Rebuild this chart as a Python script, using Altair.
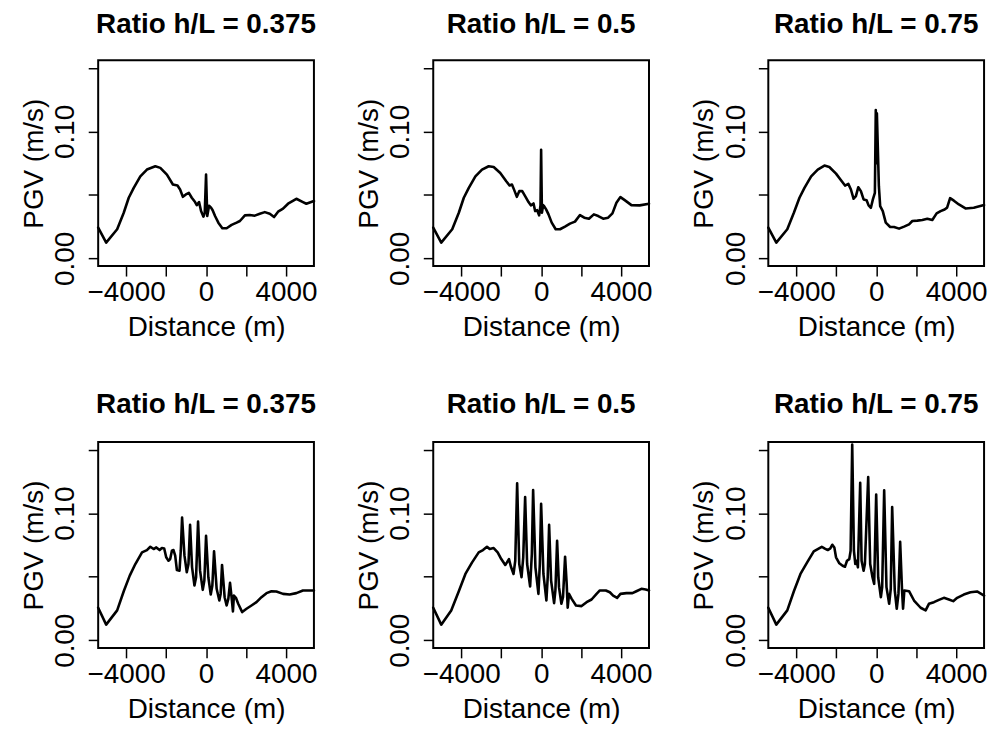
import altair as alt
import pandas as pd

titles = ["Ratio h/L = 0.375", "Ratio h/L = 0.5", "Ratio h/L = 0.75",
          "Ratio h/L = 0.375", "Ratio h/L = 0.5", "Ratio h/L = 0.75"]

# Top row: single ridge
x1 = [-5400, -5000, -4450, -4120, -3870, -3620, -3290, -2960, -2540, -2290, -1960, -1660, -1430, -1300,
      -1160, -1010, -860, -715, -550, -465, -350, -250, -130, -65, 0, 60, 150, 250, 330, 450, 615, 815,
      1030, 1280, 1530, 1695, 1945, 2190, 2440, 2690, 2940, 3190, 3405, 3605, 3855, 4105, 4520, 4850,
      5020, 5400]
y1 = [0.0243, 0.0125, 0.0230, 0.0360, 0.0478, 0.0556, 0.0647, 0.0700, 0.0726, 0.0713, 0.0660, 0.0582,
      0.0574, 0.0543, 0.0485, 0.0504, 0.0517, 0.0478, 0.0444, 0.0420, 0.0444, 0.0373, 0.0329, 0.0360,
      0.0660, 0.0334, 0.0415, 0.0400, 0.0380, 0.0334, 0.0282, 0.0238, 0.0238, 0.0264, 0.0282, 0.0295,
      0.0339, 0.0342, 0.0337, 0.0352, 0.0365, 0.0352, 0.0326, 0.0368, 0.0392, 0.0431, 0.0470, 0.0444,
      0.0431, 0.0452]

x2 = [-5400, -5000, -4450, -4120, -3870, -3620, -3290, -2960, -2625, -2375, -2045, -1745, -1580, -1460,
      -1345, -1215, -1095, -945, -800, -630, -515, -380, -300, -200, -100, -30, 0, 40, 100, 150, 250, 370,
      530, 730, 945, 1195, 1445, 1695, 1945, 2160, 2395, 2640, 2860, 3105, 3355, 3570, 3770, 3970, 4185,
      4520, 4935, 5400]
y2 = [0.0243, 0.0125, 0.0230, 0.0360, 0.0478, 0.0556, 0.0647, 0.0700, 0.0726, 0.0720, 0.0673, 0.0608,
      0.0574, 0.0582, 0.0538, 0.0485, 0.0530, 0.0530, 0.0491, 0.0444, 0.0418, 0.0433, 0.0373, 0.0380,
      0.0339, 0.0420, 0.0856, 0.0360, 0.0420, 0.0412, 0.0386, 0.0347, 0.0282, 0.0230, 0.0230, 0.0251,
      0.0274, 0.0290, 0.0342, 0.0321, 0.0313, 0.0347, 0.0334, 0.0313, 0.0321, 0.0355, 0.0439, 0.0483,
      0.0459, 0.0420, 0.0418, 0.0431]

x3 = [-5400, -5000, -4450, -4120, -3840, -3590, -3255, -2925, -2590, -2345, -2010, -1760, -1560, -1395,
      -1265, -1130, -1015, -895, -765, -630, -480, -380, -265, -165, -65, -20, 15, 35, 135, 200, 330, 480,
      700, 895, 1145, 1395, 1645, 1810, 2060, 2310, 2560, 2810, 3025, 3225, 3425, 3550, 3700, 3890, 4140,
      4470, 4885, 5400]
y3 = [0.0243, 0.0125, 0.0230, 0.0360, 0.0478, 0.0556, 0.0647, 0.0700, 0.0731, 0.0720, 0.0668, 0.0616,
      0.0574, 0.0587, 0.0543, 0.0470, 0.0491, 0.0561, 0.0530, 0.0465, 0.0459, 0.0418, 0.0399, 0.0465,
      0.0517, 0.1169, 0.0750, 0.1143, 0.0569, 0.0412, 0.0373, 0.0282, 0.0248, 0.0248, 0.0235, 0.0251,
      0.0269, 0.0295, 0.0298, 0.0303, 0.0313, 0.0303, 0.0355, 0.0373, 0.0386, 0.0400, 0.0475, 0.0455,
      0.0425, 0.0394, 0.0399, 0.0420]

# Bottom row: seven ridges
x4 = [-5400, -5000, -4450, -4120, -3820, -3540, -3205, -2960, -2790, -2625, -2490, -2325, -2210, -2095,
      -1995, -1880, -1795, -1710, -1630, -1545, -1460, -1330, -1265, -1200, -1080, -965, -880, -800, -700,
      -580, -500, -400, -300, -165, -85, 0, 115, 235, 315, 400, 530, 665, 730, 800, 930, 1030, 1115, 1200,
      1295, 1345, 1395, 1495, 1610, 1810, 2025, 2275, 2525, 2775, 3025, 3275, 3520, 3855, 4185, 4520,
      4850, 5400]
y4 = [0.0256, 0.0123, 0.0235, 0.0386, 0.0509, 0.0600, 0.0692, 0.0710, 0.0736, 0.0718, 0.0731, 0.0710,
      0.0726, 0.0723, 0.0653, 0.0626, 0.0639, 0.0705, 0.0710, 0.0666, 0.0553, 0.0548, 0.0705, 0.0966,
      0.0666, 0.0535, 0.0600, 0.0908, 0.0574, 0.0431, 0.0496, 0.0934, 0.0548, 0.0397, 0.0470, 0.0822,
      0.0496, 0.0360, 0.0431, 0.0700, 0.0405, 0.0313, 0.0365, 0.0593, 0.0339, 0.0274, 0.0326, 0.0452,
      0.0313, 0.0227, 0.0352, 0.0334, 0.0287, 0.0222, 0.0248, 0.0274, 0.0300, 0.0339, 0.0371, 0.0386,
      0.0384, 0.0365, 0.0360, 0.0371, 0.0392, 0.0392]

x5 = [-5400, -5000, -4500, -4120, -3790, -3455, -3125, -2910, -2710, -2575, -2375, -2175, -1995, -1795,
      -1710, -1610, -1510, -1380, -1295, -1200, -1095, -980, -895, -800, -700, -550, -465, -400, -285,
      -135, -65, 0, 115, 265, 330, 400, 500, 650, 715, 800, 895, 1015, 1095, 1200, 1280, 1330, 1395,
      1530, 1745, 2025, 2275, 2525, 2775, 2940, 3240, 3440, 3605, 3805, 3970, 4270, 4570, 4770, 5020,
      5235, 5400]
y5 = [0.0256, 0.0123, 0.0235, 0.0386, 0.0522, 0.0613, 0.0692, 0.0710, 0.0736, 0.0718, 0.0726, 0.0692,
      0.0639, 0.0593, 0.0613, 0.0639, 0.0579, 0.0522, 0.0626, 0.1235, 0.0600, 0.0496, 0.0653, 0.1128,
      0.0600, 0.0423, 0.0679, 0.1182, 0.0574, 0.0365, 0.0600, 0.1075, 0.0522, 0.0313, 0.0496, 0.0908,
      0.0470, 0.0292, 0.0392, 0.0783, 0.0418, 0.0287, 0.0339, 0.0658, 0.0444, 0.0256, 0.0365, 0.0326,
      0.0274, 0.0269, 0.0300, 0.0321, 0.0365, 0.0392, 0.0392, 0.0378, 0.0352, 0.0334, 0.0365, 0.0371,
      0.0371, 0.0386, 0.0405, 0.0399, 0.0392]

x6 = [-5400, -5000, -4450, -4120, -3790, -3455, -3125, -2925, -2725, -2590, -2425, -2295, -2195, -2095,
      -2010, -1845, -1680, -1560, -1460, -1345, -1280, -1200, -1115, -1045, -980, -915, -800, -730, -630,
      -565, -400, -300, -185, -100, 0, 100, 235, 300, 400, 515, 650, 730, 800, 930, 1030, 1115, 1200,
      1295, 1345, 1410, 1645, 1895, 2225, 2475, 2640, 2890, 3140, 3390, 3640, 3855, 4055, 4385, 4720,
      5050, 5400]
y6 = [0.0256, 0.0123, 0.0235, 0.0386, 0.0522, 0.0613, 0.0700, 0.0718, 0.0736, 0.0723, 0.0710, 0.0723,
      0.0752, 0.0731, 0.0653, 0.0606, 0.0587, 0.0579, 0.0626, 0.0639, 0.0705, 0.1540, 0.0705, 0.0600,
      0.0626, 0.0574, 0.1240, 0.0626, 0.0548, 0.0600, 0.1284, 0.0600, 0.0496, 0.0444, 0.1148, 0.0496,
      0.0339, 0.0418, 0.1180, 0.0418, 0.0287, 0.0405, 0.1049, 0.0392, 0.0248, 0.0365, 0.0775, 0.0392,
      0.0248, 0.0392, 0.0386, 0.0313, 0.0256, 0.0235, 0.0287, 0.0300, 0.0318, 0.0334, 0.0321, 0.0308,
      0.0334, 0.0360, 0.0378, 0.0384, 0.0352]

xs = [x1, x2, x3, x4, x5, x6]
ys = [y1, y2, y3, y4, y5, y6]

x_ticks = [-4000, -2000, 0, 2000, 4000]
y_ticks = [0.0, 0.05, 0.10, 0.15]

FONT = "Liberation Sans"
W, H = 217, 207


def panel(i):
    df = pd.DataFrame({"x": xs[i], "y": ys[i]})
    line = alt.Chart(df).mark_line(color="black", strokeWidth=2.6, strokeJoin="round",
                                   strokeCap="round").encode(
        x=alt.X("x:Q",
                scale=alt.Scale(domain=[-5400, 5400], nice=False, zero=False),
                axis=alt.Axis(values=x_ticks, format="d", title="Distance (m)",
                              labelExpr="abs(datum.value) == 2000 ? '' : datum.label",
                              grid=False, domain=False, tickSize=10, tickWidth=1.5,
                              tickColor="black", labelColor="black", titleColor="black",
                              labelFont=FONT, titleFont=FONT, labelFontSize=28, titleFontSize=28,
                              titleFontWeight="normal", labelBaseline="alphabetic",
                              labelPadding=24.7, labelOverlap=False, labelFlush=False,
                              titleX=W / 2, titleY=70, titleAlign="center",
                              titleBaseline="alphabetic")),
        y=alt.Y("y:Q",
                scale=alt.Scale(domain=[-0.006, 0.156], nice=False, zero=False),
                axis=alt.Axis(values=y_ticks, format=".2f", title="PGV (m/s)",
                              labelExpr="(datum.value == 0 || datum.value == 0.1) ? datum.label : ''",
                              grid=False, domain=False, tickSize=10, tickWidth=1.5,
                              tickColor="black", labelColor="black", titleColor="black",
                              labelFont=FONT, titleFont=FONT, labelFontSize=28, titleFontSize=28,
                              titleFontWeight="normal", labelAngle=270, labelAlign="center",
                              labelBaseline="alphabetic", labelPadding=14.4, labelOverlap=False,
                              labelFlush=False, titleAngle=270, titleX=-56, titleY=H / 2,
                              titleAlign="center", titleBaseline="alphabetic")),
    )
    tdf = pd.DataFrame({"t": [titles[i]]})
    title = alt.Chart(tdf).mark_text(font=FONT, fontSize=28, fontWeight="bold", color="black",
                                     align="center", baseline="alphabetic").encode(
        text="t:N",
        x=alt.value(W / 2),
        y=alt.value(-27 if i < 3 else -29),
    )
    return alt.layer(line, title).properties(width=W, height=H)


chart = alt.concat(*[panel(i) for i in range(6)], columns=3,
                   spacing={"row": 177, "column": 120}, bounds="flush").properties(
    padding={"left": 11.7, "top": 0.5, "right": 5, "bottom": 5},
    background="white",
).configure_view(stroke="black", strokeWidth=2)

chart.save("out.html", embed_options={"renderer": "svg", "actions": False})
